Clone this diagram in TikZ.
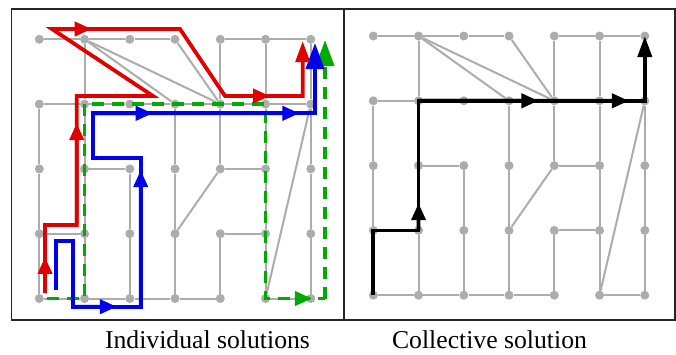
\documentclass[tikz,border=0pt]{standalone}
\usepackage{fontspec}
\setmainfont{Liberation Serif}
\usetikzlibrary{arrows.meta, calc}
\definecolor{edgegray}{RGB}{172,172,172}
\definecolor{pathred}{RGB}{225,0,0}
\definecolor{pathblue}{RGB}{0,0,235}
\definecolor{pathgreen}{RGB}{0,170,0}

\begin{document}
\begin{tikzpicture}[
    x=1pt, y=-1pt,
    vertex/.style={circle, fill=edgegray, inner sep=0pt, minimum size=9pt},
    link/.style={edgegray, line width=2pt},
    panel/.style={draw=black!85, line width=1.4pt},
    route/.style={line width=3.8pt, line join=miter},
    redroute/.style={route, color=pathred},
    blueroute/.style={route, color=pathblue},
    greenroute/.style={route, color=pathgreen, dash pattern=on 12pt off 8pt},
    blackroute/.style={route, color=black},
    headtip/.style={-{Triangle[length=17pt, width=14pt]}},
    endtip/.style={-{Triangle[length=21pt, width=14pt]}},
    bigtip/.style={-{Triangle[length=26pt, width=18pt]}},
    caption/.style={font=\fontsize{25.7}{30}\selectfont, anchor=base}
]
\useasboundingbox (0,0) rectangle (676,354);
\draw[panel] (11.5,9) rectangle (344,320);
\draw[panel] (344,9) rectangle (675,320);
% grid of both panels
\foreach \p/\ox/\oy in {l/39.3/39.3, r/373.3/36} {
    \foreach \c in {1,...,7} {
        \foreach \r in {1,...,5} {
            \node[vertex] (\p\c\r) at ({\ox+(\c-1)*45.25}, {\oy+(\r-1)*64.8}) {};
        }
    }
}
\foreach \a/\b in {11/21, 21/31, 31/41, 51/61, 61/71,
                   12/22, 22/32, 32/42, 42/52, 52/62, 62/72,
                   23/33, 53/63, 14/24, 54/64,
                   15/25, 25/35, 35/45, 45/55, 65/75,
                   12/13, 13/14, 14/15,
                   21/22, 22/23, 23/24, 24/25,
                   33/34, 34/35,
                   42/43, 43/44, 44/45,
                   51/52, 52/53, 54/55,
                   61/62, 62/63, 63/64, 64/65,
                   71/72, 72/73, 73/74, 74/75,
                   21/42, 21/52, 41/52, 53/44, 72/65} {
    \draw[link] (l\a) -- (l\b);
    \draw[link] (r\a) -- (r\b);
}
% individual solutions
\coordinate (ra) at (45,293);
\coordinate (rb) at (45,225);
\coordinate (rc) at (76.7,225);
\coordinate (rd) at (76.7,96);
\coordinate (re) at (153,96);
\coordinate (rf) at (52,29);
\coordinate (rg) at (180,29);
\coordinate (rh) at (225,96);
\coordinate (ri) at (302.7,96);
\coordinate (rj) at (302.7,41);
\coordinate (ba) at (55.7,290);
\coordinate (bb) at (55.7,240.7);
\coordinate (bc) at (72.7,240.7);
\coordinate (bd) at (72.7,306.7);
\coordinate (be) at (140.7,306.7);
\coordinate (bf) at (140.7,158.3);
\coordinate (bg) at (92.7,158.3);
\coordinate (bh) at (92.7,113.3);
\coordinate (bi) at (315,113.3);
\coordinate (bj) at (315,43);
\coordinate (ga) at (46.7,298.5);
\coordinate (gf) at (325,298.5);
\coordinate (gg) at (325,40);
\draw[greenroute] (ga) -- (l25.center) -- (l22.center) -- (l62.center) -- (l65.center) -- (gf);
\draw[greenroute, bigtip] (gf) -- (gg);
\draw[greenroute, solid, headtip] ($(l65.center)!0.74!(gf)$) -- ($(l65.center)!0.78!(gf)$);
\draw[blueroute, bigtip] (ba) -- (bb) -- (bc) -- (bd) -- (be) -- (bf) -- (bg) -- (bh) -- (bi) -- (bj);
\draw[blueroute, headtip] (bd) -- ($(bd)!0.65!(be)$);
\draw[blueroute, headtip] (be) -- ($(be)!0.92!(bf)$);
\draw[blueroute, headtip] (bh) -- ($(bh)!0.27!(bi)$);
\draw[blueroute, headtip] (bh) -- ($(bh)!0.93!(bi)$);
\draw[redroute, endtip] (ra) -- (rb) -- (rc) -- (rd) -- (re) -- (rf) -- (rg) -- (rh) -- (ri) -- (rj);
\draw[redroute, headtip] (ra) -- ($(ra)!0.53!(rb)$);
\draw[redroute, headtip] (rc) -- ($(rc)!0.79!(rd)$);
\draw[redroute, headtip] (rf) -- ($(rf)!0.31!(rg)$);
\draw[redroute, headtip] (rh) -- ($(rh)!0.58!(ri)$);
% collective solution
\draw[blackroute, endtip] (r15.center) -- (r14.center) -- (r24.center) -- (r22.center) -- (r72.center) -- (r71.center);
\draw[blackroute, headtip] (r24.center) -- ($(r24.center)!0.21!(r22.center)$);
\draw[blackroute, headtip] (r22.center) -- ($(r22.center)!0.53!(r72.center)$);
\draw[blackroute, headtip] (r22.center) -- ($(r22.center)!0.93!(r72.center)$);
\node[caption] (indiv) at (207.5,348) {Individual solutions};
\node[caption] (coll) at (489.5,348) {Collective solution};
\end{tikzpicture}
\end{document}
